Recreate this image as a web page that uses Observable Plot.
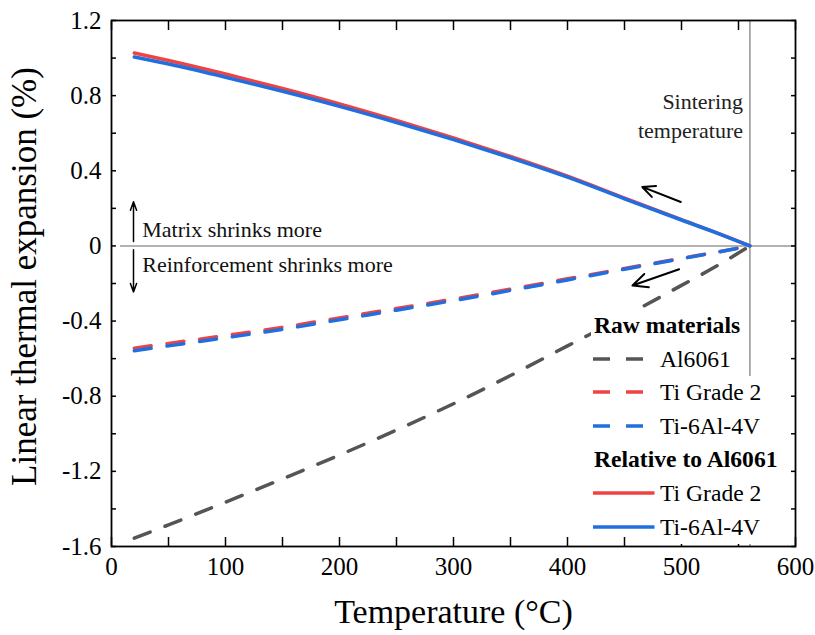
<!DOCTYPE html>
<html><head><meta charset="utf-8">
<script src="https://cdn.jsdelivr.net/npm/d3@7"></script>
<script src="https://cdn.jsdelivr.net/npm/@observablehq/plot@0.6"></script>
<style>
body{margin:0;background:#fff;}
#wrap{position:relative;width:815px;height:635px;font-family:"Liberation Serif","Times New Roman",serif;color:#000;}
.row{position:absolute;height:33.6px;line-height:33.6px;font-size:23.6px;white-space:nowrap;font-family:"Liberation Serif","Times New Roman",serif;}
.row span{display:inline-block;height:33.6px;background:#fff;padding:0 3px;}
.row svg{position:absolute;left:0;top:0;}
</style></head>
<body><div id="wrap"></div>
<script>
// ---- data ----
const temps       = [20, 50, 100, 150, 200, 250, 300, 350, 400, 450, 500, 530, 560];
const al6061Raw   = [-1.556, -1.485, -1.364, -1.240, -1.113, -0.980, -0.840, -0.690, -0.532, -0.375, -0.210, -0.110, 0];
const tiGr2Raw    = [-0.544, -0.519, -0.477, -0.433, -0.383, -0.333, -0.283, -0.230, -0.175, -0.120, -0.066, -0.034, 0];
const ti64Raw     = [-0.558, -0.532, -0.489, -0.444, -0.393, -0.342, -0.291, -0.237, -0.181, -0.124, -0.068, -0.035, 0];
const tiGr2Rel    = [1.027, 0.987, 0.915, 0.838, 0.756, 0.668, 0.575, 0.476, 0.371, 0.255, 0.140, 0.072, 0];
const ti64Rel     = [1.006, 0.968, 0.898, 0.823, 0.743, 0.657, 0.566, 0.469, 0.366, 0.251, 0.138, 0.071, 0];

const sinterTemp  = [560];
const xMajor = [0, 100, 200, 300, 400, 500, 600];
const xMinor = [0, 50, 100, 150, 200, 250, 300, 350, 400, 450, 500, 550, 600];
const yMajor = [-1.6, -1.2, -0.8, -0.4, 0, 0.4, 0.8, 1.2];
const yMinor = [-1.6, -1.4, -1.2, -1.0, -0.8, -0.6, -0.4, -0.2, 0, 0.2, 0.4, 0.6, 0.8, 1.0, 1.2];

const xTitle = "Temperature (°C)";
const yTitle = "Linear thermal expansion (%)";

const noteText = ["Matrix shrinks more", "Reinforcement shrinks more"];
const noteX    = [27, 27];
const noteY    = [0.083, -0.099];
const sinterText = ["Sintering", "temperature"];
const sinterX    = [554, 554];
const sinterY    = [0.765, 0.611];

// small vertical arrows
const vArrX1 = [19.3, 19.3], vArrY1 = [0.023, -0.021], vArrY2 = [0.235, -0.245];
// diagonal arrows (cooling direction)
const dArrX1 = [499.4, 497.9], dArrY1 = [0.234, -0.124], dArrX2 = [465.6, 457.0], dArrY2 = [0.314, -0.211];

const colRed = "#ef4343", colBlue = "#1f6fe0", colGray = "#555555";
const dash = "17,16";

// legend
const legendTitles = ["Raw materials", "Relative to Al6061"];
const legendRaw = ["Al6061", "Ti Grade 2", "Ti-6Al-4V"];
const legendRel = ["Ti Grade 2", "Ti-6Al-4V"];

// ---- build tables ----
const mk = (vals) => temps.map((t, i) => ({T: t, v: vals[i]}));
const notes = noteText.map((s, i) => ({s, x: noteX[i], y: noteY[i]}));
const sinter = sinterText.map((s, i) => ({s, x: sinterX[i], y: sinterY[i]}));
const vArr = vArrX1.map((x, i) => ({x, y1: vArrY1[i], y2: vArrY2[i]}));
const dArr = dArrX1.map((x, i) => ({x1: x, y1: dArrY1[i], x2: dArrX2[i], y2: dArrY2[i]}));

const font = "'Liberation Serif','Times New Roman',serif";
const lineOpts = {x: "T", y: "v", strokeWidth: 3.5, curve: "monotone-x"};

const chart = Plot.plot({
  width: 815, height: 635,
  marginLeft: 111, marginRight: 20, marginTop: 20, marginBottom: 89,
  style: {fontFamily: font, background: "#fff", color: "#000"},
  x: {domain: [0, 600], label: null},
  y: {domain: [-1.6, 1.2], label: null},
  marks: [
    Plot.ruleY([0], {stroke: "#999", strokeWidth: 1.6, insetLeft: 9}),
    Plot.ruleX(sinterTemp, {stroke: "#999", strokeWidth: 1.6}),
    Plot.line(mk(al6061Raw), {...lineOpts, stroke: colGray, strokeDasharray: dash}),
    Plot.line(mk(tiGr2Raw), {...lineOpts, stroke: colRed, strokeDasharray: dash}),
    Plot.line(mk(ti64Raw), {...lineOpts, stroke: colBlue, strokeDasharray: dash}),
    Plot.line(mk(tiGr2Rel), {...lineOpts, stroke: colRed}),
    Plot.line(mk(ti64Rel), {...lineOpts, stroke: colBlue}),
    Plot.arrow(vArr, {x: "x", y1: "y1", y2: "y2", stroke: "#000", strokeWidth: 1.5, headLength: 9, headAngle: 40}),
    Plot.arrow(dArr, {x1: "x1", y1: "y1", x2: "x2", y2: "y2", stroke: "#000", strokeWidth: 2, headLength: 13, headAngle: 50}),
    Plot.text(notes, {x: "x", y: "y", text: "s", textAnchor: "start", lineAnchor: "middle", fontSize: 22, fill: "#111"}),
    Plot.text(sinter, {x: "x", y: "y", text: "s", textAnchor: "end", lineAnchor: "middle", fontSize: 22, fill: "#222"}),
    // ticks (inside) on all four sides
    Plot.axisX(xMinor, {anchor: "bottom", tickSize: -9, fill: "none", strokeWidth: 1.5, label: null}),
    Plot.axisX(xMinor, {anchor: "top", tickSize: -9, fill: "none", strokeWidth: 1.5, label: null}),
    Plot.axisY(yMinor, {anchor: "left", tickSize: -5, fill: "none", strokeWidth: 1.5, label: null}),
    Plot.axisY(yMinor, {anchor: "right", tickSize: -5, fill: "none", strokeWidth: 1.5, label: null}),
    // tick labels
    Plot.axisX(xMajor, {anchor: "bottom", tickSize: 0, tickPadding: 11, fontSize: 25, label: null}),
    Plot.axisY(yMajor, {anchor: "left", tickSize: 0, tickPadding: 10, fontSize: 25, label: null,
      tickFormat: d => d === 0 ? "0" : d.toFixed(1)}),
    // axis titles
    Plot.text([xTitle], {frameAnchor: "bottom", textAnchor: "middle", dy: 66, lineAnchor: "middle", fontSize: 34}),
    Plot.text([yTitle], {frameAnchor: "left", textAnchor: "middle", rotate: -90, dx: -87, dy: -7, lineAnchor: "middle", fontSize: 35}),
    Plot.frame({stroke: "#000", strokeWidth: 1.8})
  ]
});

const wrap = document.getElementById("wrap");
wrap.appendChild(chart);

// ---- legend (overlaid in the lower right of the plot area) ----
const rowTop0 = 309, rowH = 33.6;
const rows = [
  {kind: "title", label: legendTitles[0]},
  {kind: "dash", label: legendRaw[0], color: colGray},
  {kind: "dash", label: legendRaw[1], color: colRed},
  {kind: "dash", label: legendRaw[2], color: colBlue},
  {kind: "title", label: legendTitles[1]},
  {kind: "solid", label: legendRel[0], color: colRed},
  {kind: "solid", label: legendRel[1], color: colBlue}
];
rows.forEach((r, i) => {
  const div = document.createElement("div");
  div.className = "row";
  div.style.top = (rowTop0 + i * rowH) + "px";
  if (r.kind === "title") {
    div.style.left = "591px";
    const sp = document.createElement("span");
    sp.style.fontWeight = "bold";
    sp.textContent = r.label;
    div.appendChild(sp);
  } else {
    div.style.left = "592.7px";
    const ns = "http://www.w3.org/2000/svg";
    const svg = document.createElementNS(ns, "svg");
    svg.setAttribute("width", "64"); svg.setAttribute("height", "34");
    const ln = document.createElementNS(ns, "line");
    ln.setAttribute("x1", "0"); ln.setAttribute("x2", r.kind === "dash" ? "52.5" : "61.5");
    ln.setAttribute("y1", "16"); ln.setAttribute("y2", "16");
    ln.setAttribute("stroke", r.color); ln.setAttribute("stroke-width", "3.5");
    if (r.kind === "dash") ln.setAttribute("stroke-dasharray", dash);
    svg.appendChild(ln);
    div.appendChild(svg);
    const sp = document.createElement("span");
    sp.style.marginLeft = "64.3px";
    sp.textContent = r.label;
    div.appendChild(sp);
  }
  wrap.appendChild(div);
});
</script>
</body></html>
